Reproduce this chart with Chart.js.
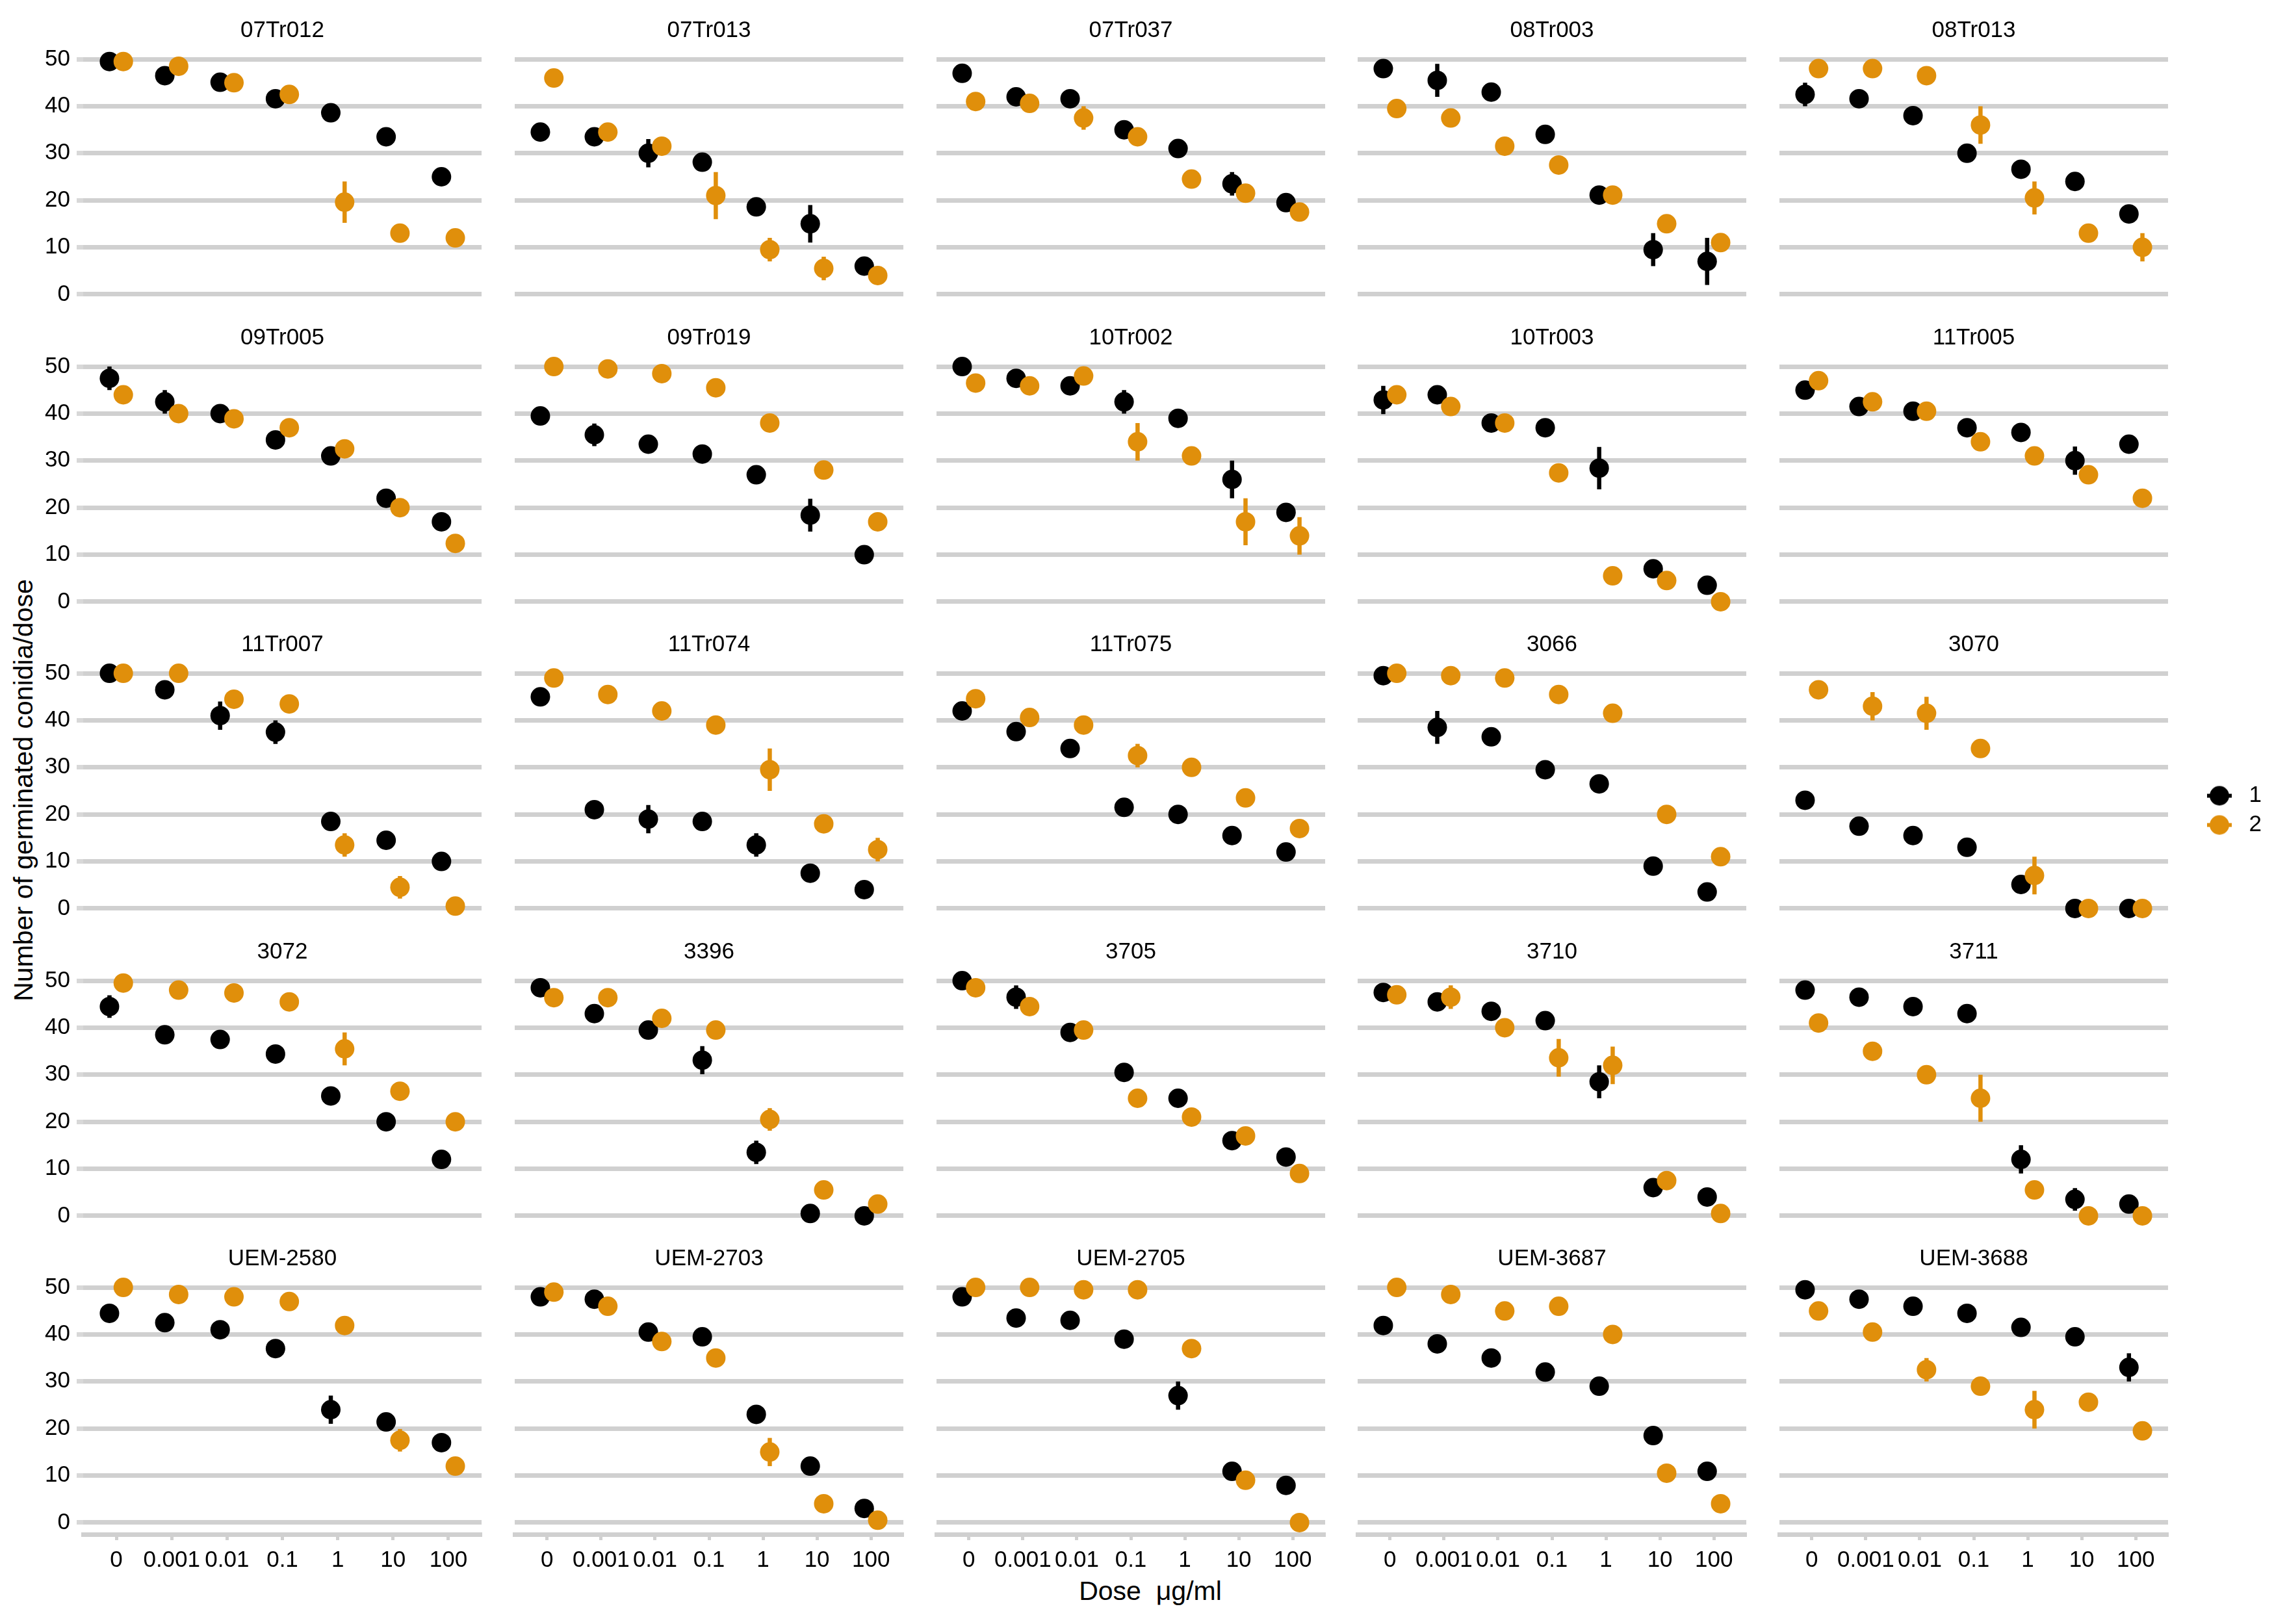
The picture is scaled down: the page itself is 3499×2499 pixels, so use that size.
<!DOCTYPE html>
<html>
<head>
<meta charset="utf-8">
<script src="https://cdn.jsdelivr.net/npm/chart.js@4.4.1/dist/chart.umd.min.js"></script>
<style>
html,body{margin:0;padding:0;background:#fff;}
body{width:3499px;height:2499px;position:relative;overflow:hidden;}
canvas{position:absolute;}
.atitle{position:absolute;color:#000;white-space:nowrap;font-family:"Liberation Sans",Arial,sans-serif;line-height:1;}
</style>
</head>
<body>
<div id="xtitle" class="atitle">Dose&nbsp;&nbsp;μg/ml</div>
<div id="ytitle" class="atitle">Number of germinated conidia/dose</div>
<script>
// ---------------- DATA ----------------
const strains = ['07Tr012','07Tr013','07Tr037','08Tr003','08Tr013',
                 '09Tr005','09Tr019','10Tr002','10Tr003','11Tr005',
                 '11Tr007','11Tr074','11Tr075','3066','3070',
                 '3072','3396','3705','3710','3711',
                 'UEM-2580','UEM-2703','UEM-2705','UEM-3687','UEM-3688'];
const doseLabels = ['0','0.001','0.01','0.1','1','10','100'];
const yTicks = [0,10,20,30,40,50];
const seriesNames = ['1','2'];

// series "1" (black): mean germinated conidia per dose
const mean1 = [
  [49.5,46.5,45.1,41.6,38.6,33.5,25.0],
  [34.5,33.5,30.0,28.1,18.6,15.0,6.0],
  [47.0,42.0,41.6,35.0,31.0,23.5,19.5],
  [48.0,45.5,43.0,34.0,21.1,9.5,7.0],
  [42.5,41.6,38.0,30.0,26.6,24.0,17.1],
  [47.5,42.5,40.0,34.4,31.0,22.0,17.0],
  [39.5,35.5,33.5,31.4,27.0,18.4,10.0],
  [50.0,47.5,45.9,42.5,39.0,26.0,19.0],
  [42.9,44.0,38.0,37.0,28.4,7.0,3.5],
  [45.0,41.5,40.5,37.0,36.0,30.0,33.5],
  [50.0,46.5,41.0,37.5,18.5,14.5,10.0],
  [45.0,21.0,19.0,18.5,13.5,7.5,4.0],
  [42.0,37.6,34.0,21.5,20.0,15.5,12.0],
  [49.5,38.5,36.5,29.5,26.5,9.0,3.5],
  [23.0,17.5,15.5,13.0,5.1,0.0,0.0],
  [44.5,38.5,37.5,34.4,25.5,20.0,12.0],
  [48.5,43.0,39.5,33.1,13.5,0.5,0.0],
  [50.0,46.5,39.0,30.5,25.0,16.0,12.5],
  [47.5,45.5,43.5,41.5,28.5,6.0,4.0],
  [48.0,46.5,44.5,43.0,12.0,3.5,2.5],
  [44.5,42.5,41.0,37.0,24.0,21.4,17.0],
  [48.0,47.5,40.5,39.5,23.0,12.0,3.0],
  [48.0,43.5,43.0,39.0,27.0,10.9,7.9],
  [41.9,38.0,35.0,32.0,29.0,18.5,10.9],
  [49.5,47.5,46.0,44.5,41.5,39.5,33.0]
];
// series "1" (black): standard error (0 = hidden behind the point)
const se1 = [
  [0,0,0,0,0,0,0],
  [0,0,3,0,0,4,0],
  [0,0,0,0,0,2.5,0],
  [0,3.5,0,0,0,3.5,5],
  [2.5,0,0,0,0,0,0],
  [2.5,2.5,0,0,0,0,0],
  [0,2.4,0,0,0,3.5,0],
  [0,0,0,2.5,0,4,0],
  [3,0,0,0,4.5,0,0],
  [0,0,0,0,0,3,0],
  [0,0,3,2.5,0,0,0],
  [0,0,3,0,2.5,0,0],
  [0,0,0,0,0,0,0],
  [0,3.5,0,0,0,0,0],
  [0,0,0,0,0,0,0],
  [2.4,0,0,0,0,0,0],
  [0,0,0,3,2.5,0,0],
  [0,2.5,0,0,0,0,0],
  [0,0,0,0,3.5,0,0],
  [0,0,0,0,3,2.4,0],
  [0,0,0,0,3,0,0],
  [0,0,0,0,0,0,0],
  [0,0,0,0,3,0,0],
  [0,0,0,0,0,0,0],
  [0,0,0,0,0,0,3]
];
// series "2" (orange): mean germinated conidia per dose
const mean2 = [
  [49.5,48.5,45.0,42.5,19.6,13.0,12.0],
  [46.0,34.5,31.5,21.0,9.5,5.5,4.0],
  [41.0,40.6,37.5,33.5,24.5,21.5,17.5],
  [39.5,37.5,31.5,27.5,21.1,15.0,11.0],
  [48.0,48.0,46.5,36.0,20.5,13.0,10.0],
  [44.0,40.0,38.9,37.0,32.5,20.0,12.4],
  [50.0,49.5,48.5,45.5,38.0,28.0,17.0],
  [46.5,45.9,48.0,34.0,31.0,17.0,14.0],
  [44.0,41.5,38.0,27.4,5.5,4.5,0.0],
  [47.0,42.5,40.5,34.0,31.0,27.0,22.0],
  [50.0,50.0,44.5,43.5,13.5,4.5,0.5],
  [49.0,45.5,42.0,39.0,29.5,18.0,12.5],
  [44.6,40.6,39.0,32.5,30.0,23.5,17.0],
  [50.0,49.5,49.0,45.5,41.5,20.0,11.0],
  [46.5,43.0,41.5,34.0,7.0,0.0,0.0],
  [49.5,48.0,47.4,45.5,35.5,26.5,20.0],
  [46.4,46.4,42.0,39.5,20.5,5.5,2.5],
  [48.5,44.5,39.5,25.0,21.0,17.0,9.0],
  [47.0,46.5,40.0,33.6,32.0,7.5,0.5],
  [41.0,35.0,30.0,25.0,5.5,0.0,0.0],
  [50.0,48.5,48.0,47.0,41.9,17.5,12.0],
  [49.0,46.0,38.5,35.0,15.0,4.0,0.5],
  [50.0,50.0,49.5,49.5,37.0,9.0,0.0],
  [50.0,48.5,45.0,46.0,40.0,10.5,4.0],
  [45.0,40.5,32.5,29.0,24.0,25.6,19.5]
];
// series "2" (orange): standard error
const se2 = [
  [0,0,0,0,4.4,0,0],
  [0,0,0,5,2.5,2.5,0],
  [0,0,2.5,0,0,0,0],
  [0,0,0,0,0,0,0],
  [0,0,0,4,3.5,0,3],
  [0,0,0,0,0,0,0],
  [0,0,0,0,0,0,0],
  [0,0,0,4,0,5,4],
  [0,0,0,0,0,0,0],
  [0,0,0,0,0,0,0],
  [0,0,0,0,2.5,2.4,0],
  [0,0,0,0,4.5,0,2.5],
  [0,0,0,2.5,0,0,0],
  [0,0,0,0,0,0,0],
  [0,3,3.5,0,4,0,0],
  [0,0,0,0,3.5,0,0],
  [0,0,0,0,2.4,0,0],
  [0,0,0,0,0,0,0],
  [0,2.5,0,4,4,0,0],
  [0,0,0,5,0,0,0],
  [0,0,0,0,0,2.4,0],
  [0,0,0,0,3,0,0],
  [0,0,0,0,0,0,0],
  [0,0,0,0,0,0,0],
  [0,0,2.5,0,4,0,0]
];

// ---------------- STYLE / LAYOUT ----------------
const C1 = '#000000', C2 = '#E08F0B';
const GRID = '#D0D0D0';
const FONT = '"Liberation Sans", Arial, Helvetica, sans-serif';
const FS = 35;
const DODGE = 0.125;
const NCOL = 5, NROW = 5;
const COL0 = 128, COL_STEP = 648.8, PANEL_W = 628;
const ROW0 = 73.4, ROW_STEP = 472.4, PANEL_H = 398;
const YAXIS_W = 110, XAXIS_H = 70;
const TITLE_PAD_TOP = 8, TITLE_PAD_BOTTOM = 5;
const TITLE_H = TITLE_PAD_TOP + Math.round(FS * 1.2) + TITLE_PAD_BOTTOM;
const BOTTOM_PAD = 45;

function pointData(means, off) {
  return means.map((v, i) => ({x: i + off, y: v}));
}
function errData(means, ses, off) {
  const out = [];
  means.forEach((m, i) => {
    if (ses[i] > 0) {
      out.push({x: i + off, y: m - ses[i]});
      out.push({x: i + off, y: m + ses[i]});
      out.push({x: i + off, y: null});
    }
  });
  return out;
}

function makePanel(k) {
  const r = Math.floor(k / NCOL), c = k % NCOL;
  const isLeft = c === 0, isBottom = r === NROW - 1;
  const pl = Math.round(COL0 + c * COL_STEP);
  const pt = Math.round(ROW0 + r * ROW_STEP);
  const axisW = isLeft ? YAXIS_W : 0;
  const w = axisW + PANEL_W;
  const h = TITLE_H + PANEL_H + (isBottom ? XAXIS_H : BOTTOM_PAD);
  const cv = document.createElement('canvas');
  cv.width = w; cv.height = h;
  cv.style.left = (pl - axisW) + 'px';
  cv.style.top = (pt - TITLE_H) + 'px';
  cv.style.width = w + 'px'; cv.style.height = h + 'px';
  document.body.appendChild(cv);

  const font = {family: FONT, size: FS, weight: 'normal', lineHeight: 1.2};
  new Chart(cv, {
    type: 'scatter',
    data: {
      datasets: [
        {label: seriesNames[1], data: pointData(mean2[k], DODGE), backgroundColor: C2,
         borderWidth: 0, pointRadius: 15, pointHoverRadius: 15, order: 0},
        {label: seriesNames[1] + ' se', data: errData(mean2[k], se2[k], DODGE), showLine: true, spanGaps: false,
         borderColor: C2, borderWidth: 6.5, borderCapStyle: 'butt', pointRadius: 0, order: 1},
        {label: seriesNames[0], data: pointData(mean1[k], -DODGE), backgroundColor: C1,
         borderWidth: 0, pointRadius: 15, pointHoverRadius: 15, order: 2},
        {label: seriesNames[0] + ' se', data: errData(mean1[k], se1[k], -DODGE), showLine: true, spanGaps: false,
         borderColor: C1, borderWidth: 6.5, borderCapStyle: 'butt', pointRadius: 0, order: 3}
      ]
    },
    options: {
      responsive: false, animation: false, devicePixelRatio: 1, events: [],
      clip: false,
      layout: {padding: {left: 0, right: 0, top: 0, bottom: isBottom ? 0 : BOTTOM_PAD}},
      plugins: {
        legend: {display: false},
        tooltip: {enabled: false},
        title: {display: true, text: strains[k], fullSize: false, color: '#000',
                font: font, padding: {top: TITLE_PAD_TOP, bottom: TITLE_PAD_BOTTOM}}
      },
      scales: {
        x: {
          type: 'linear', min: -0.6, max: 6.6, display: isBottom,
          afterBuildTicks: s => { s.ticks = doseLabels.map((_, i) => ({value: i})); },
          afterFit: s => { s.height = isBottom ? XAXIS_H : 0; },
          grid: {display: true, drawOnChartArea: false, drawTicks: true, tickLength: 9, tickWidth: 5, tickColor: GRID},
          border: {display: true, color: GRID, width: 7},
          ticks: {callback: (v, i) => doseLabels[i], font: font, color: '#000', padding: 10,
                  maxRotation: 0, autoSkip: false}
        },
        y: {
          type: 'linear', min: -2.5, max: 52.5,
          afterBuildTicks: s => { s.ticks = yTicks.map(v => ({value: v})); },
          afterFit: s => { s.width = axisW; },
          grid: {color: GRID, lineWidth: 7, drawTicks: isLeft, tickLength: 10, tickColor: '#D8D8D8', tickWidth: 7},
          border: {display: false},
          ticks: {display: isLeft, padding: 10, font: font, color: '#000'}
        }
      }
    }
  });
}

for (let k = 0; k < strains.length; k++) makePanel(k);

// legend
function keyImage(color) {
  const c = document.createElement('canvas');
  c.width = 38; c.height = 32;
  const g = c.getContext('2d');
  g.fillStyle = color;
  g.beginPath(); g.arc(19, 16, 15, 0, 2 * Math.PI); g.fill();
  g.fillRect(0, 13, 38, 6);
  return c;
}
(function () {
  const cv = document.createElement('canvas');
  const w = 122, h = 110;
  cv.width = w; cv.height = h;
  cv.style.left = '3377px'; cv.style.top = '1197px';
  cv.style.width = w + 'px'; cv.style.height = h + 'px';
  document.body.appendChild(cv);
  new Chart(cv, {
    type: 'scatter',
    data: {datasets: [
      {label: seriesNames[0], data: [], backgroundColor: C1, pointStyle: keyImage(C1)},
      {label: seriesNames[1], data: [], backgroundColor: C2, pointStyle: keyImage(C2)}
    ]},
    options: {
      responsive: false, animation: false, devicePixelRatio: 1, events: [],
      scales: {x: {display: false}, y: {display: false}},
      plugins: {
        tooltip: {enabled: false},
        legend: {display: true, position: 'left', align: 'start', maxWidth: 200,
          labels: {usePointStyle: true, pointStyleWidth: 56, padding: 10, color: '#000',
                   font: {family: FONT, size: FS, weight: 'normal'}}}
      }
    }
  });
})();

// axis titles
const xt = document.getElementById('xtitle');
xt.style.fontSize = '41px';
xt.style.left = '1770px'; xt.style.top = '2448px';
xt.style.transform = 'translate(-50%,-50%)';
const yt = document.getElementById('ytitle');
yt.style.fontSize = '41px';
yt.style.left = '36px'; yt.style.top = '1216px';
yt.style.transform = 'translate(-50%,-50%) rotate(-90deg)';
</script>
</body>
</html>
